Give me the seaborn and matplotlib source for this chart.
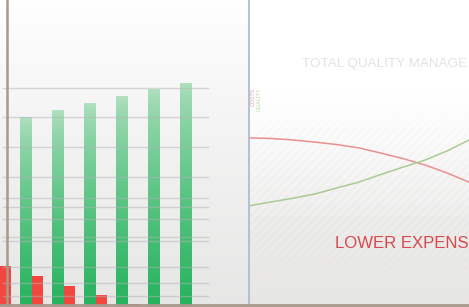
import numpy as np
import pandas as pd
import matplotlib
matplotlib.use("Agg")
import matplotlib.pyplot as plt
from matplotlib.lines import Line2D
from matplotlib.patches import Rectangle
import seaborn as sns

# Bar panel data (0-100 scale)
periods = ["P0", "P1", "P2", "P3", "P4", "P5", "P6"]
benefit = [59.3, 61.6, 63.9, 66.2, 68.5, 70.8, 72.8]
expense = [12.8, 9.5, 6.2, 3.3, 0.3, 0.0, 0.0]
grid_levels = [71.1, 61.6, 51.8, 42.0, 35.1, 32.1, 28.2, 22.3, 21.0, 12.5, 7.2, 3.0]

# Line panel data
curve_x = [0, 1, 2, 3, 4, 5, 6, 7, 8, 9, 10]
cost_curve = [54.8, 54.6, 54.1, 53.4, 52.6, 51.5, 49.8, 48.0, 45.9, 43.3, 40.3]
quality_curve = [32.5, 33.8, 35.0, 36.4, 38.4, 40.3, 42.8, 45.2, 47.5, 50.5, 54.1]

W, H = 469, 307
fig = plt.figure(figsize=(W / 100, H / 100), dpi=100)

# soft vertical background gradient
bg = fig.add_axes([0, 0, 1, 1], zorder=-10)
grad = np.linspace(0, 1, 256)[:, None]
top = np.array([1.0, 1.0, 1.0])
bot = np.array([0.905, 0.903, 0.90])
img = top + (bot - top) * grad[..., None] ** 0.9
bg.imshow(np.repeat(img, 4, axis=1), aspect="auto", extent=[0, 1, 0, 1])
bg.set_axis_off()

# ---- left: bars ----
ax = fig.add_axes([0, 2 / H, 249 / W, 305 / H])
ax.patch.set_alpha(0)
df = pd.DataFrame({
    "period": periods * 2,
    "value": benefit + expense,
    "kind": ["benefit"] * len(periods) + ["expense"] * len(periods),
})
sns.barplot(data=df, x="period", y="value", hue="kind", ax=ax, width=0.72,
            palette={"benefit": "#3dbb6c", "expense": "#f3463f"},
            legend=False, saturation=1, linewidth=0)

# gradient fill for the green bars
g_top = np.array([0.70, 0.88, 0.76])
g_bot = np.array([0.15, 0.70, 0.37])
gg = np.linspace(0, 1, 128)[:, None, None] ** 0.7
g_img = g_top + (g_bot - g_top) * gg
for p in ax.patches[:len(periods)]:
    x0, w, h = p.get_x(), p.get_width(), p.get_height()
    im = ax.imshow(np.repeat(g_img, 2, axis=1), aspect="auto",
                   extent=[x0, x0 + w, 0, h], zorder=p.get_zorder())
    im.set_clip_path(p)
    p.set_facecolor("none")

for lvl in grid_levels:
    ax.axhline(lvl, xmin=3 / 249, xmax=208 / 249, color="#b4b4b4",
               alpha=0.5, lw=1.0, zorder=5)

ax.set_xlim(0.0125, 0.0125 + 249 / 32)
ax.set_ylim(0, 100)
ax.set_axis_off()

# ---- right: curves ----
ax2 = fig.add_axes([249 / W, 2 / H, 220 / W, 305 / H])
ax2.patch.set_alpha(0)
ax2.add_patch(Rectangle((0, 0), 10, 100, facecolor="none", edgecolor="#e9e6e2",
                        hatch="////", lw=0, zorder=0))
# fade the hatch out towards the top
fade = np.ones((256, 2, 4))
fade[..., 3] = np.clip((np.linspace(1, 0, 256) - 0.25) / 0.45, 0, 1)[:, None]
ax2.imshow(fade, aspect="auto", extent=[0, 10, 0, 100], zorder=0.5)
sns.lineplot(x=curve_x, y=cost_curve, ax=ax2, color="#ec8f8f", lw=1.1)
sns.lineplot(x=curve_x, y=quality_curve, ax=ax2, color="#a9cb92", lw=1.1)
ax2.set_xlim(0, 10)
ax2.set_ylim(0, 100)
ax2.set_xticks([])
ax2.set_yticks([])
for s in ["top", "right", "bottom"]:
    ax2.spines[s].set_visible(False)
ax2.spines["left"].set_color("#aebcd8")
ax2.spines["left"].set_linewidth(1.3)

# frame lines of the illustration
fig.add_artist(Line2D([7 / W, 7 / W], [2 / H, 1], color="#a8998a", lw=1.8))
fig.add_artist(Line2D([0, 1], [2 / H, 2 / H], color="#a8998a", lw=2.0))

fig.text(302 / W, 1 - 64 / H, "TOTAL QUALITY MANAGE", color="#e3e3e3",
         fontsize=9.7, va="center", family=["Liberation Sans Narrow", "Liberation Sans"])
fig.text(335 / W, 1 - 243 / H, "LOWER EXPENS", color="#d9484c",
         fontsize=12.1, va="center", family=["Liberation Sans", "DejaVu Sans"])
fig.text(253 / W, 1 - 97 / H, "COSTS", color="#eba3a3", fontsize=4,
         rotation=90, va="center", ha="center")
fig.text(259 / W, 1 - 99 / H, "QUALITY", color="#bcd8ad", fontsize=4,
         rotation=90, va="center", ha="center")

fig.savefig("out.png", dpi=100)
